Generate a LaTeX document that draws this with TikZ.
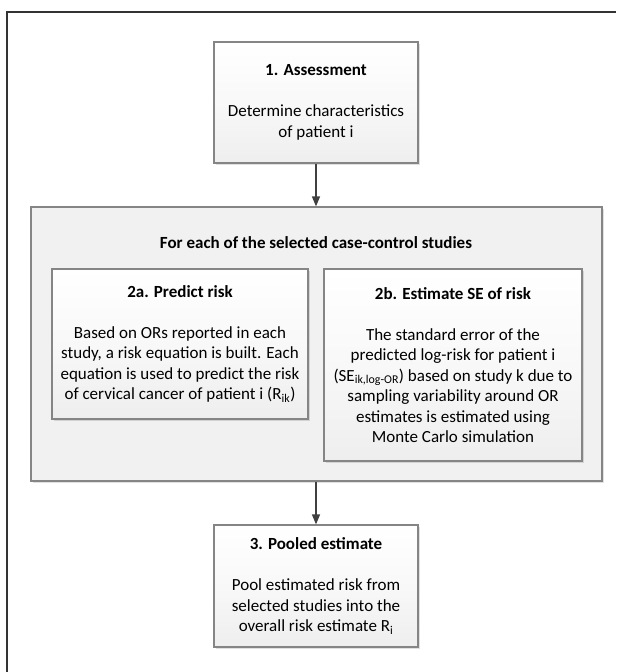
\documentclass[tikz,border=0pt]{standalone}
\usepackage{fontspec}
\setmainfont{Carlito}
\usepackage{tikz}
\usetikzlibrary{arrows.meta,shadows}
\definecolor{frameline}{HTML}{333333}
\definecolor{boxline}{HTML}{858585}
\definecolor{boxbot}{HTML}{EEEEEE}
\definecolor{groupbg}{HTML}{F1F1F1}
\definecolor{arrowline}{HTML}{404040}

\begin{document}
\begin{tikzpicture}[x=1pt, y=-1pt,
  stepbox/.style={rectangle, draw=boxline, line width=1.2pt, top color=white, bottom color=boxbot, middle color=white!60!boxbot, align=center, inner sep=0pt, font=\fontsize{17}{20.5}\selectfont, drop shadow={shadow xshift=1.5pt, shadow yshift=-1.5pt, fill=black, opacity=0.12}},
  groupbox/.style={rectangle, draw=boxline, line width=1.2pt, fill=groupbg, inner sep=0pt, drop shadow={shadow xshift=1.5pt, shadow yshift=-1.5pt, fill=black, opacity=0.12}},
  arrow/.style={-{Triangle[length=10pt, width=8pt]}, draw=arrowline, fill=arrowline, line width=1.3pt}
]
  \useasboundingbox (0,0) rectangle (616,672);
  \draw[frameline, line width=2pt] (7,672) -- (7,12) -- (616,12);

  \node[stepbox, minimum width=204pt, minimum height=121pt] (assess) at (316,102.5)
    {\textbf{1. Assessment}\\[20.5pt]Determine characteristics\\of patient i};
  \node[groupbox, minimum width=571pt, minimum height=274pt] (study) at (316.5,344) {};
  \node[font=\fontsize{17}{20.5}\selectfont\bfseries] (studytitle) at (316,243)
    {For each of the selected case-control studies};
  \node[stepbox, minimum width=256pt, minimum height=150pt] (predict) at (180,344)
    {\textbf{2a. Predict risk}\\[20.5pt]Based on ORs reported in each\\study, a risk equation is built. Each\\equation is used to predict the risk\\of cervical cancer of patient i (R\textsubscript{ik})};
  \node[stepbox, minimum width=258pt, minimum height=192pt] (sevar) at (453,365)
    {\textbf{2b. Estimate SE of risk}\\[20.5pt]The standard error of the\\predicted log-risk for patient i\\(SE\textsubscript{ik,log-OR}) based on study k due to\\sampling variability around OR\\estimates is estimated using\\Monte Carlo simulation};
  \node[stepbox, minimum width=204pt, minimum height=122pt] (pooled) at (316,586)
    {\textbf{3. Pooled estimate}\\[20.5pt]Pool estimated risk from\\selected studies into the\\overall risk estimate R\textsubscript{i}};

  \draw[arrow] (assess) -- (study.north -| assess);
  \draw[arrow] (study.south -| pooled) -- (pooled);
\end{tikzpicture}
\end{document}
